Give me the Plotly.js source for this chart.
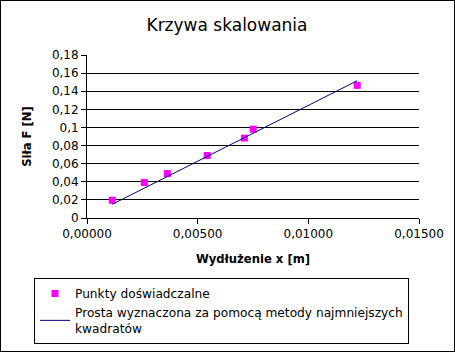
<!DOCTYPE html>
<html>
<head>
<meta charset="utf-8">
<script src="https://cdn.plot.ly/plotly-3.0.1.min.js"></script>
<style>
html,body{margin:0;padding:0;background:#fff;}
#chart{width:455px;height:352px;box-sizing:border-box;border:1px solid #000;}
</style>
</head>
<body>
<div id="chart"></div>
<script>
// Data
const pointsX = [0.00114, 0.00259, 0.00363, 0.00543, 0.00711, 0.00751, 0.01221];
const pointsF = [0.0196, 0.0392, 0.0490, 0.0690, 0.0882, 0.0981, 0.1465];
const fitX = [0.00114, 0.01221];
const fitF = [0.0151, 0.1516];
const yTickVals = [0, 0.02, 0.04, 0.06, 0.08, 0.1, 0.12, 0.14, 0.16, 0.18];
const yTickText = ["0", "0,02", "0,04", "0,06", "0,08", "0,1", "0,12", "0,14", "0,16", "0,18"];
const xTickVals = [0, 0.005, 0.01, 0.015];
const xTickText = ["0,00000", "0,00500", "0,01000", "0,01500"];

const font = "DejaVu Sans, Verdana, sans-serif";

const traces = [
  {
    x: pointsX, y: pointsF, type: "scatter", mode: "markers",
    name: "Punkty doświadczalne",
    marker: {symbol: "square", size: 7, color: "#ff00ff"}
  },
  {
    x: fitX, y: fitF, type: "scatter", mode: "lines",
    name: "Prosta wyznaczona za pomocą metody najmniejszych<br>kwadratów",
    line: {color: "#000080", width: 1}
  }
];

const W = 453, H = 350;
const L = 86, R = 35, T = 54, B = 133;
const pw = W - L - R, ph = H - T - B;

const layout = {
  width: W, height: H,
  margin: {l: L, r: R, t: T, b: B, pad: 0, autoexpand: false},
  paper_bgcolor: "#fff", plot_bgcolor: "#fff",
  font: {family: font, size: 12, color: "#000"},
  title: {text: "Krzywa skalowania", font: {family: font, size: 17, color: "#000"},
          x: 226/W, xanchor: "center", y: 1 - 24.5/H, yanchor: "middle", xref: "container", yref: "container"},
  xaxis: {
    range: [0, 0.015], tickvals: xTickVals, ticktext: xTickText, tickangle: 0,
    showline: true, linecolor: "#000", linewidth: 1,
    ticks: "outside", ticklen: 5, tickcolor: "#000", tickwidth: 1,
    showgrid: false, zeroline: false, automargin: false,
    tickfont: {family: font, size: 12},
    title: {text: "<b>Wydłużenie x [m]</b>", font: {family: font, size: 11.6}, standoff: 14}
  },
  yaxis: {
    range: [0, 0.18], tickvals: yTickVals, ticktext: yTickText,
    showline: true, linecolor: "#000", linewidth: 1,
    ticks: "outside", ticklen: 5, tickcolor: "#000", tickwidth: 1,
    showgrid: true, gridcolor: "#000", gridwidth: 1, zeroline: false, automargin: false,
    tickfont: {family: font, size: 12},
    title: {text: "<b>Siła F [N]</b>", font: {family: font, size: 11.6}, standoff: 17}
  },
  showlegend: true,
  legend: {
    x: (33 - L) / pw, y: (T + ph - 343) / ph, xanchor: "left", yanchor: "bottom",
    bordercolor: "#000", borderwidth: 1, bgcolor: "#fff",
    font: {family: font, size: 12.2, color: "#000"},
    tracegroupgap: 0
  }
};

Plotly.newPlot("chart", traces, layout, {displayModeBar: false, staticPlot: true});
</script>
</body>
</html>
